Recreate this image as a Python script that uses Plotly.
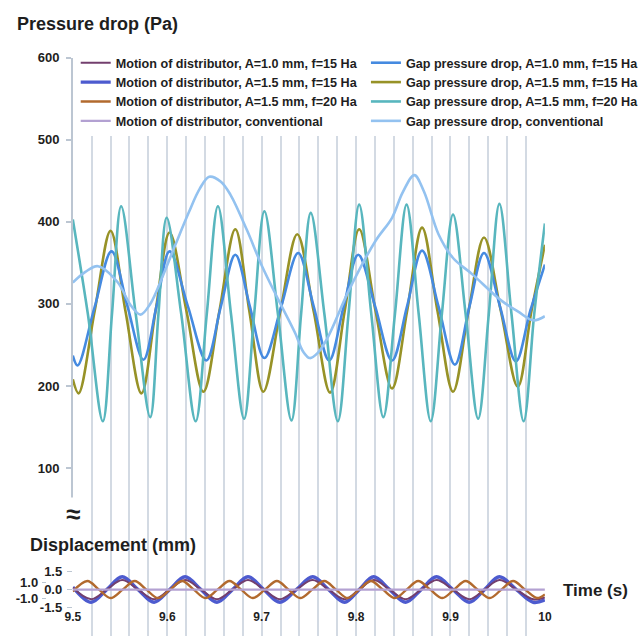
import plotly.graph_objects as go

# ---------------- data ----------------
# Gap pressure drop, A=1.0 mm, f=15 Ha
t_gap1 = [9.5000, 9.5051, 9.5231, 9.5410, 9.5579, 9.5748, 9.5886, 9.6025, 9.6219, 9.6414,
          9.6568, 9.6721, 9.6875, 9.7029, 9.7208, 9.7387, 9.7551, 9.7715, 9.7869, 9.8023,
          9.8202, 9.8381, 9.8540, 9.8699, 9.8873, 9.9047, 9.9201, 9.9355, 9.9524, 9.9693,
          9.9846, 10.0]
p_gap1 = [237, 225, 296, 364, 297, 232, 297, 364, 297, 231,
          297, 360, 297, 234, 297, 362, 297, 231, 297, 360,
          297, 231, 297, 365, 297, 226, 297, 362, 297, 230,
          292, 348]

# Gap pressure drop, A=1.5 mm, f=15 Ha
t_gap2 = [9.5000, 9.5061, 9.5231, 9.5400, 9.5558, 9.5727, 9.5876, 9.6025, 9.6204, 9.6383,
          9.6552, 9.6721, 9.6870, 9.7018, 9.7198, 9.7377, 9.7551, 9.7725, 9.7879, 9.8033,
          9.8207, 9.8381, 9.8540, 9.8699, 9.8863, 9.9027, 9.9191, 9.9355, 9.9534, 9.9713,
          9.9857, 10.0]
p_gap2 = [208, 191, 291, 389, 291, 191, 291, 387, 291, 193,
          291, 391, 291, 193, 291, 385, 291, 192, 291, 391,
          291, 197, 291, 393, 291, 193, 291, 381, 291, 199,
          291, 372]

# Gap pressure drop, A=1.5 mm, f=20 Ha
t_gap3 = [9.5000, 9.5159, 9.5318, 9.5415, 9.5512, 9.5666, 9.5820, 9.5907, 9.5994, 9.6148,
          9.6301, 9.6419, 9.6537, 9.6675, 9.6814, 9.6921, 9.7029, 9.7172, 9.7316, 9.7418,
          9.7520, 9.7664, 9.7807, 9.7920, 9.8033, 9.8161, 9.8289, 9.8412, 9.8535, 9.8663,
          9.8791, 9.8909, 9.9027, 9.9160, 9.9293, 9.9406, 9.9518, 9.9646, 9.9775, 9.9887,
          10.0]
p_gap3 = [403, 288, 157, 288, 419, 288, 162, 288, 405, 288,
          157, 288, 419, 288, 160, 288, 413, 288, 158, 288,
          411, 288, 157, 288, 421, 288, 162, 288, 421, 288,
          157, 288, 409, 288, 160, 288, 422, 288, 157, 288,
          398]

# Gap pressure drop, conventional
t_gapc = [9.5000, 9.5133, 9.5266, 9.5471, 9.5615, 9.5717, 9.5820, 9.5953, 9.6086, 9.6230,
          9.6342, 9.6445, 9.6568, 9.6670, 9.6844, 9.7008, 9.7182, 9.7357, 9.7439, 9.7510,
          9.7592, 9.7695, 9.7930, 9.8207, 9.8381, 9.8494, 9.8617, 9.8719, 9.8873, 9.9027,
          9.9232, 9.9539, 9.9713, 9.9877, 10.0]
p_gapc = [326, 339, 346, 327, 298, 287, 300, 334, 372, 412,
          440, 455, 449, 433, 390, 345, 304, 264, 242, 234,
          240, 258, 318, 377, 405, 436, 457, 437, 385, 356,
          336, 304, 291, 280, 285]

# Motion of distributor, f=15 Ha (both amplitudes share the sampling times)
t_mot15 = [9.5000, 9.5195, 9.5359, 9.5523, 9.5692, 9.5861, 9.6025, 9.6189, 9.6358, 9.6527,
           9.6691, 9.6855, 9.7024, 9.7193, 9.7367, 9.7541, 9.7710, 9.7879, 9.8033, 9.8186,
           9.8356, 9.8525, 9.8689, 9.8852, 9.9027, 9.9201, 9.9360, 9.9518, 9.9698, 9.9877,
           10.0]
d_mot1 = [0.15, -0.80, 0, 0.80, 0, -0.80, 0, 0.80, 0, -0.80,
          0, 0.80, 0, -0.80, 0, 0.80, 0, -0.80, 0, 0.80,
          0, -0.80, 0, 0.80, 0, -0.80, 0, 0.80, 0, -0.80,
          -0.65]
d_mot2 = [0.22, -1.05, 0, 1.07, 0, -1.05, 0, 1.07, 0, -1.05,
          0, 1.07, 0, -1.05, 0, 1.07, 0, -1.05, 0, 1.07,
          0, -1.05, 0, 1.07, 0, -1.05, 0, 1.07, 0, -1.05,
          -0.85]

# Motion of distributor, A=1.5 mm, f=20 Ha
t_mot3 = [9.5000, 9.5154, 9.5277, 9.5400, 9.5528, 9.5656, 9.5779, 9.5902, 9.6030, 9.6158,
          9.6281, 9.6404, 9.6532, 9.6660, 9.6783, 9.6906, 9.7034, 9.7162, 9.7285, 9.7408,
          9.7536, 9.7664, 9.7787, 9.7910, 9.8033, 9.8156, 9.8284, 9.8412, 9.8535, 9.8658,
          9.8786, 9.8914, 9.9037, 9.9160, 9.9288, 9.9416, 9.9539, 9.9662, 9.9790, 9.9918,
          10.0]
d_mot3 = [-0.15, 0.72, 0, -0.70, 0, 0.72, 0, -0.70, 0, 0.72,
          0, -0.70, 0, 0.72, 0, -0.70, 0, 0.72, 0, -0.70,
          0, 0.72, 0, -0.70, 0, 0.72, 0, -0.70, 0, 0.72,
          0, -0.70, 0, 0.72, 0, -0.70, 0, 0.72, 0, -0.70,
          -0.40]

# Motion of distributor, conventional (no motion)
t_motc = [9.5, 10.0]
d_motc = [0.0, 0.0]

x_ticks = [9.5, 9.6, 9.7, 9.8, 9.9, 10.0]
x_ticktext = ["9.5", "9.6", "9.7", "9.8", "9.9", "10"]
p_ticks = [100, 200, 300, 400, 500, 600]
d_ticks = [1.5, 0.0, -1.5]
d_ticktext = ["1.5", "0.0", "-1.5"]
d_ticks2 = [1.0, -1.0]
d_ticktext2 = ["1.0", "-1.0"]

names_motion = ["Motion of distributor, A=1.0 mm, f=15 Ha",
                "Motion of distributor, A=1.5 mm, f=15 Ha",
                "Motion of distributor, A=1.5 mm, f=20 Ha",
                "Motion of distributor, conventional"]
names_gap = ["Gap pressure drop, A=1.0 mm, f=15 Ha",
             "Gap pressure drop, A=1.5 mm, f=15 Ha",
             "Gap pressure drop, A=1.5 mm, f=20 Ha",
             "Gap pressure drop, conventional"]

# ---------------- styling ----------------
W = H = 644
FONT = "Liberation Sans, Arial, sans-serif"
GRID = "#d3dae3"
AXC = "#bcc6d2"
TXT = "#1e1e1e"

c_mot = ["#733f6e", "#4d5bcf", "#b26a2e", "#b3a1d2"]
c_gap = ["#458ae0", "#979227", "#58b6be", "#93c2f0"]

def fx(p):
    return p / W

def fy(p):
    return 1 - p / H

fig = go.Figure()

# empty traces that create the full-height grid subplot and the secondary tick axis
fig.add_trace(go.Scatter(x=[], y=[], xaxis="x", yaxis="y", showlegend=False, hoverinfo="skip"))
fig.add_trace(go.Scatter(x=[], y=[], xaxis="x", yaxis="y4", showlegend=False, hoverinfo="skip"))

# pressure traces (x2 / y2)
gap_data = [(t_gap1, p_gap1), (t_gap2, p_gap2), (t_gap3, p_gap3), (t_gapc, p_gapc)]
for i in [1, 0, 2, 3]:
    tt, pp = gap_data[i]
    fig.add_trace(go.Scatter(
        x=tt, y=pp, mode="lines", name=names_gap[i],
        line=dict(color=c_gap[i], width=2.6, shape="spline", smoothing=1.0),
        xaxis="x2", yaxis="y2", legend="legend2", legendrank=i + 1))

# displacement traces (x / y3)
mot_data = [(t_mot15, d_mot1), (t_mot15, d_mot2), (t_mot3, d_mot3), (t_motc, d_motc)]
mot_width = [2.0, 3.4, 2.4, 2.2]
for i in [1, 0, 2, 3]:
    tt, dd = mot_data[i]
    fig.add_trace(go.Scatter(
        x=tt, y=dd, mode="lines", name=names_motion[i],
        line=dict(color=c_mot[i], width=mot_width[i], shape="spline", smoothing=1.0),
        xaxis="x", yaxis="y3", legend="legend", legendrank=i + 1))

xdom = [fx(67), fx(555)]
tickfont = dict(family=FONT, size=13, color=TXT, weight="bold")
legfont = dict(family=FONT, size=12.6, color=TXT, weight="bold")

fig.update_layout(
    width=W, height=H,
    margin=dict(l=0, r=0, t=0, b=0),
    paper_bgcolor="white", plot_bgcolor="rgba(0,0,0,0)",
    showlegend=True,
    xaxis=dict(domain=xdom, range=[9.5, 10.0], anchor="y3",
               tickmode="array", tickvals=x_ticks, ticktext=x_ticktext,
               showgrid=True, gridcolor=GRID, gridwidth=1.5,
               minor=dict(tickmode="linear", tick0=9.5, dtick=0.02, showgrid=True,
                          gridcolor=GRID, gridwidth=1.5),
               ticks="", showline=False, zeroline=False,
               tickfont=dict(family=FONT, size=12, color=TXT, weight="bold")),
    xaxis2=dict(domain=xdom, range=[9.5, 10.0], anchor="y2", matches="x",
                visible=False, showgrid=False),
    yaxis=dict(domain=[0, fy(125)], range=[0, 1], anchor="x", visible=False,
               showgrid=False, zeroline=False),
    yaxis2=dict(domain=[fy(505.6), fy(52)], range=[60, 600], anchor="x2",
                tickmode="array", tickvals=p_ticks,
                ticks="outside", ticklen=5, tickwidth=1.5, tickcolor=AXC,
                showline=True, linecolor=AXC, linewidth=1.5,
                showgrid=False, zeroline=False, tickfont=tickfont,
                ticklabelstandoff=4),
    yaxis3=dict(domain=[fy(615), fy(578)], range=[-1.5, 1.5], anchor="x",
                tickmode="array", tickvals=d_ticks, ticktext=d_ticktext,
                ticks="outside", ticklen=5, tickwidth=1.2, tickcolor=AXC,
                showline=False, showgrid=False, zeroline=False,
                tickfont=dict(family=FONT, size=13, color=TXT, weight="bold"),
                ticklabelstandoff=2),
    yaxis4=dict(overlaying="y3", anchor="free", position=fx(39), range=[-2.2, 2.467],
                tickmode="array", tickvals=d_ticks2, ticktext=d_ticktext2,
                ticks="outside", ticklen=4, tickwidth=1.2, tickcolor=AXC,
                showline=False, showgrid=False, zeroline=False,
                tickfont=dict(family=FONT, size=13, color=TXT, weight="bold"),
                ticklabelstandoff=1),
    legend=dict(x=fx(70), y=fy(42), xanchor="left", yanchor="top",
                bgcolor="white", borderwidth=0, tracegroupgap=0,
                font=legfont, itemwidth=30),
    legend2=dict(x=fx(370), y=fy(42), xanchor="left", yanchor="top",
                 bgcolor="white", borderwidth=0, tracegroupgap=0,
                 font=legfont, itemwidth=30),
    annotations=[
        dict(text="<b>Pressure drop (Pa)</b>", x=fx(7), y=fy(17), xref="paper", yref="paper",
             xanchor="left", yanchor="middle", showarrow=False,
             font=dict(family=FONT, size=18, color=TXT)),
        dict(text="<b>Displacement (mm)</b>", x=fx(21), y=fy(551), xref="paper", yref="paper",
             xanchor="left", yanchor="middle", showarrow=False,
             font=dict(family=FONT, size=18, color=TXT)),
        dict(text="<b>Time (s)</b>", x=fx(572), y=fy(597), xref="paper", yref="paper",
             xanchor="left", yanchor="middle", showarrow=False,
             font=dict(family=FONT, size=17, color=TXT)),
        dict(text="<b>≈</b>", x=fx(67), y=fy(519), xref="paper", yref="paper",
             xanchor="center", yanchor="middle", showarrow=False, bgcolor="white",
             font=dict(family=FONT, size=26, color=TXT)),
    ],
)

fig.write_html("out.html")
